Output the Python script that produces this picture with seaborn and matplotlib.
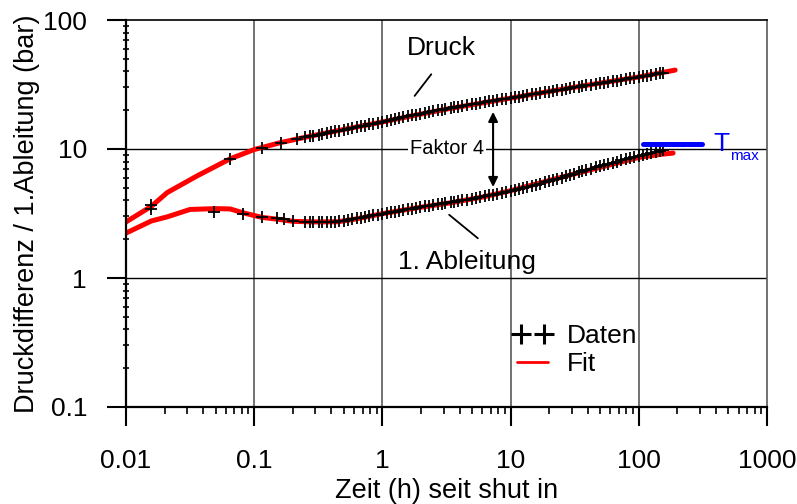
import matplotlib
matplotlib.use('Agg')
import matplotlib.pyplot as plt
from matplotlib.lines import Line2D
from matplotlib.legend_handler import HandlerLine2D
from matplotlib.ticker import LogLocator, NullFormatter
import seaborn as sns

# data
# fit curves (red)
t_fit_druck = [0.01, 0.0158, 0.021, 0.036, 0.065, 0.1, 0.16, 0.22, 0.31, 0.47, 1.0,
               1.86, 3.36, 6.1, 10, 27.6, 100, 150, 192]
fit_druck = [2.72, 3.6, 4.6, 6.2, 8.4, 9.9, 11.2, 12.0, 12.9, 14.0, 16.2,
             18.4, 20.6, 22.8, 24.8, 29.5, 36.2, 39.0, 40.9]

t_fit_abl = [0.01, 0.0158, 0.021, 0.0316, 0.05, 0.065, 0.082, 0.1, 0.115, 0.15, 0.2,
             0.3, 0.45, 0.6, 1.0, 1.86, 3.36, 6.1, 10, 27.6, 100, 150, 185]
fit_abl = [2.23, 2.77, 2.98, 3.4, 3.45, 3.43, 3.2, 3.05, 2.95, 2.86, 2.75,
           2.72, 2.73, 2.85, 3.15, 3.5, 3.82, 4.25, 4.75, 6.2, 8.6, 9.1, 9.3]

# measured points (black +)
t_dense = [0.25, 0.27, 0.29, 0.32, 0.34, 0.37, 0.40, 0.43, 0.46, 0.50, 0.54, 0.58,
           0.63, 0.68, 0.73, 0.79, 0.85, 0.92, 1.0, 1.08, 1.16, 1.25, 1.35, 1.46,
           1.58, 1.7, 1.84, 1.98, 2.14, 2.3, 2.5, 2.7, 2.9, 3.1, 3.4, 3.6, 3.9, 4.2,
           4.6, 5.0, 5.4, 5.8, 6.3, 6.8, 7.3, 7.9, 8.5, 9.2, 10, 10.8, 11.6, 12.5,
           13.5, 14.6, 15.8, 17, 18.4, 19.8, 21.4, 23, 25, 27, 29, 31, 34, 36, 39,
           42, 46, 50, 54, 58, 63, 68, 73, 79, 85, 92, 100, 108, 116, 125, 135, 146, 155]

t_druck = [0.0158, 0.065, 0.115, 0.162, 0.216] + t_dense
druck = [3.7, 8.4, 10.2, 11.2, 12.0,
         12.3, 12.5, 12.7, 12.95, 13.1, 13.3, 13.5, 13.7, 13.9, 14.1, 14.3, 14.5,
         14.75, 15.0, 15.2, 15.5, 15.7, 15.95, 16.2, 16.5, 16.75, 17.0, 17.3, 17.6,
         17.9, 18.2, 18.4, 18.7, 19.0, 19.3, 19.6, 19.9, 20.2, 20.5, 20.8, 21.0, 21.3, 21.6,
         21.9, 22.2, 22.5, 22.8, 23.1, 23.4, 23.7, 24.0, 24.3, 24.6, 24.8, 25.2, 25.5, 25.8,
         26.1, 26.5, 26.8, 27.2, 27.5, 27.9, 28.2, 28.6, 28.9, 29.3, 29.6, 30.0, 30.4, 30.7, 31.1,
         31.5, 31.9, 32.3, 32.7, 33.1, 33.5, 33.9, 34.3, 34.7, 35.2, 35.6, 36.1, 36.6, 37.0, 37.5, 38.0, 38.5, 39.0]

t_abl = [0.0158, 0.0486, 0.082, 0.115, 0.15, 0.17, 0.2] + t_dense
abl = [3.4, 3.25, 3.15, 2.95, 2.9, 2.85, 2.75,
       2.72, 2.72, 2.71, 2.71, 2.71, 2.71, 2.72, 2.73, 2.75, 2.78, 2.82, 2.85,
       2.9, 2.94, 2.98, 3.02, 3.06, 3.1, 3.15, 3.19, 3.23, 3.27, 3.31, 3.36,
       3.41, 3.45, 3.5, 3.54, 3.59, 3.63, 3.68, 3.72, 3.76, 3.8, 3.86, 3.9, 3.95, 4.0,
       4.06, 4.12, 4.18, 4.24, 4.3, 4.37, 4.43, 4.5, 4.57, 4.65, 4.75, 4.83, 4.92, 5.0,
       5.1, 5.2, 5.3, 5.4, 5.5, 5.6, 5.75, 5.85, 6.0, 6.15, 6.3, 6.45, 6.6, 6.75, 6.9,
       7.05, 7.2, 7.4, 7.55, 7.7, 7.85, 8.0, 8.15, 8.3, 8.45, 8.6, 8.75, 8.95, 9.15, 9.3, 9.45, 9.6, 9.75]

# T_max bar
t_tmax = [108, 311]
tmax_level = [10.9, 10.9]

x_ticks = [0.01, 0.1, 1, 10, 100, 1000]
x_tick_labels = ['0.01', '0.1', '1', '10', '100', '1000']
y_ticks = [0.1, 1, 10, 100]
y_tick_labels = ['0.1', '1', '10', '100']

sns.set_style('ticks')
plt.rcParams['font.family'] = ['Liberation Sans', 'DejaVu Sans']
plt.rcParams['text.color'] = 'black'
plt.rcParams['axes.labelcolor'] = 'black'
plt.rcParams['xtick.color'] = 'black'
plt.rcParams['ytick.color'] = 'black'

fig = plt.figure(figsize=(7.97, 5.04), dpi=100)
ax = fig.add_axes([126 / 797, 1 - 407 / 504, 641 / 797, 387 / 504])
ax.set_xscale('log')
ax.set_yscale('log')

# grid
for v in [0.1, 1, 10, 100]:
    ax.axvline(v, color='#5a5a5a', lw=1.2, zorder=0)
for v in [1, 10]:
    ax.axhline(v, color='black', lw=1.0, zorder=0)

sns.lineplot(x=t_fit_druck, y=fit_druck, color='red', lw=3.6, sort=False,
             estimator=None, ax=ax, zorder=2)
sns.lineplot(x=t_fit_abl, y=fit_abl, color='red', lw=3.6, sort=False,
             estimator=None, ax=ax, zorder=2)
sns.scatterplot(x=t_druck, y=druck, marker='+', color='black', s=75,
                linewidth=1.3, ax=ax, zorder=3)
sns.scatterplot(x=t_abl, y=abl, marker='+', color='black', s=75,
                linewidth=1.3, ax=ax, zorder=3)
sns.lineplot(x=t_tmax, y=tmax_level, color='#0000ff', lw=3.6, ax=ax, zorder=4)

ax.set_xlim(0.01, 1000)
ax.set_ylim(0.1, 100)
ax.set_xticks(x_ticks)
ax.set_xticklabels(x_tick_labels)
ax.set_yticks(y_ticks)
ax.set_yticklabels(y_tick_labels)
ax.xaxis.set_minor_locator(LogLocator(base=10, subs=range(2, 10)))
ax.yaxis.set_minor_locator(LogLocator(base=10, subs=range(2, 10)))
ax.xaxis.set_minor_formatter(NullFormatter())
ax.yaxis.set_minor_formatter(NullFormatter())
ax.tick_params(which='major', direction='out', length=14, width=1.5,
               labelsize=19, color='black', labelcolor='black')
ax.tick_params(axis='x', which='major', pad=16)
ax.tick_params(axis='y', which='major', pad=14)
ax.tick_params(axis='x', which='minor', direction='out', length=5, width=1.2, color='black')
ax.tick_params(axis='y', which='minor', direction='inout', length=4.5, width=1.2, color='black')

for s in ['left', 'bottom']:
    ax.spines[s].set_linewidth(1.6)
    ax.spines[s].set_color('black')
ax.spines['top'].set_linewidth(1.2)
ax.spines['top'].set_color('black')
ax.spines['right'].set_linewidth(1.2)
ax.spines['right'].set_color('#5a5a5a')

ax.set_xlabel('Zeit (h) seit shut in', fontsize=19.5, labelpad=4)
ax.set_ylabel('Druckdifferenz / 1.Ableitung (bar)', fontsize=19.5, labelpad=2)

# annotations
ax.text(2.87, 60.7, 'Druck', fontsize=19, ha='center', va='center')
ax.annotate('', xy=(1.73, 24.8), xytext=(2.48, 39.5),
            arrowprops=dict(arrowstyle='-', color='black', lw=1.3))
ax.text(4.57, 1.33, '1. Ableitung', fontsize=19, ha='center', va='center')
ax.annotate('', xy=(5.77, 1.97), xytext=(3.19, 3.19),
            arrowprops=dict(arrowstyle='-', color='black', lw=1.3))
ax.annotate('', xy=(7.3, 19.4), xytext=(7.3, 5.07),
            arrowprops=dict(arrowstyle='<|-|>', color='black', lw=1.5,
                            mutation_scale=14, shrinkA=0, shrinkB=0))
ax.text(3.19, 10, 'Faktor 4', fontsize=14.5, ha='center', va='center',
        bbox=dict(facecolor='white', edgecolor='none', pad=1.5), zorder=1)
ax.text(379, 10.9, 'T', fontsize=19, color='#0000ff', ha='left', va='center')
ax.text(514, 8.2, 'max', fontsize=11, color='#0000ff', ha='left', va='baseline')

h_daten = Line2D([], [], ls='none', marker='+', color='black', ms=14, mew=2.2)
h_fit = Line2D([], [], color='red', lw=2)
ax.legend([h_daten, h_fit], ['Daten', 'Fit'], loc='upper left',
          bbox_to_anchor=(0.597, 0.214), frameon=False, numpoints=2, fontsize=19,
          handlelength=1.8, handletextpad=0.4, labelspacing=0.15, borderpad=0,
          borderaxespad=0, handler_map={h_daten: HandlerLine2D(marker_pad=0.45)})

fig.savefig('out.png', dpi=100)
